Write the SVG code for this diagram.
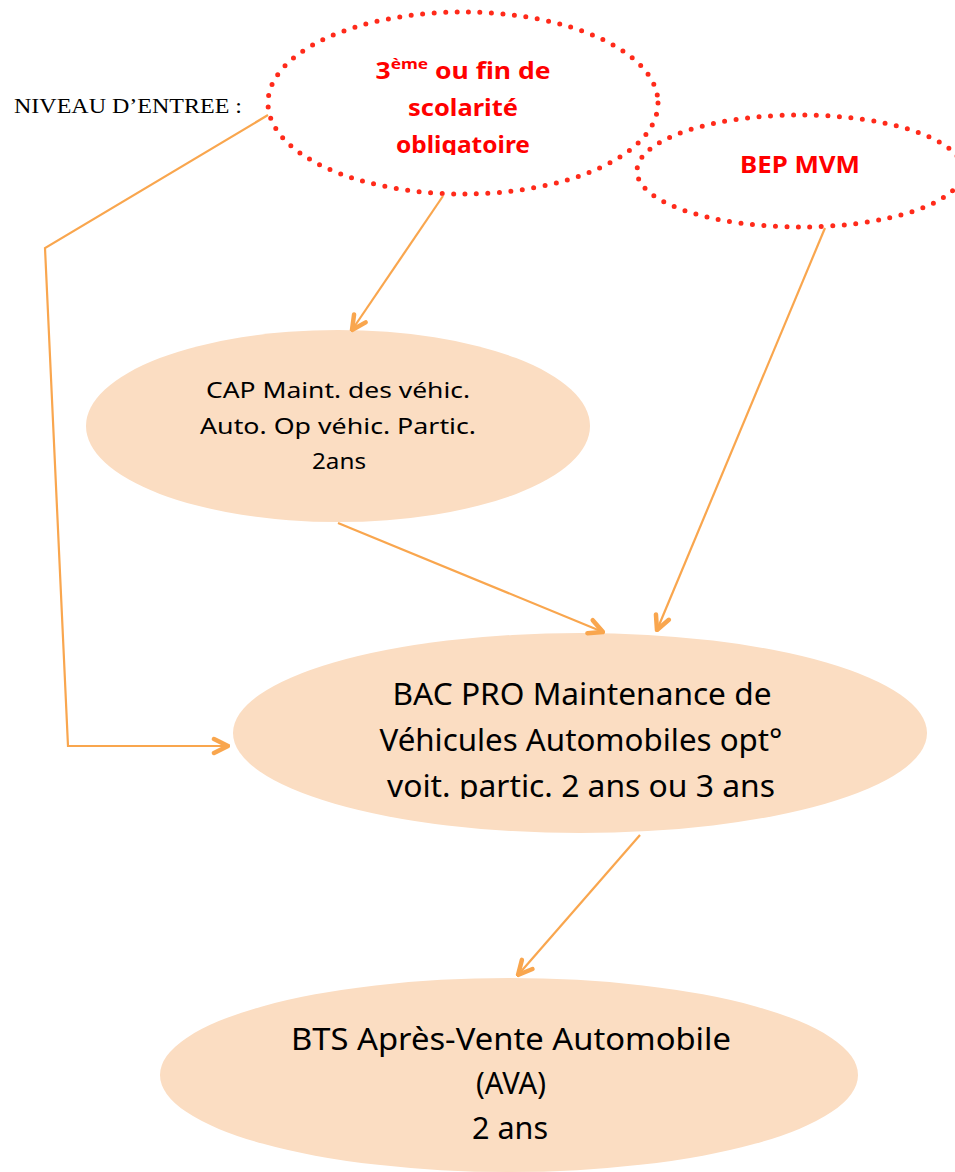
<svg xmlns="http://www.w3.org/2000/svg" width="955" height="1172" viewBox="0 0 955 1172">
<style>
.dot{fill:none;stroke:#FF2A1A;stroke-width:5;stroke-linecap:round;stroke-dasharray:0 11.5}
.node{fill:#FBDDC2}
.red{font-family:"Comic Sans MS","Noto Sans",sans-serif;font-weight:bold;fill:#FF0000;font-size:23px;text-anchor:middle}
.blk{font-family:"Comic Sans MS","Noto Sans",sans-serif;fill:#000;text-anchor:middle}
.con{fill:none;stroke:#F9A64E;stroke-width:2.2}
.head{fill:none;stroke:#F9A64E;stroke-width:4.5;stroke-linecap:round;stroke-linejoin:round}
</style>
<defs>
<clipPath id="c1"><rect x="0" y="0" width="955" height="155"/></clipPath>
<clipPath id="c2"><rect x="0" y="0" width="955" height="799"/></clipPath>
<marker id="arr" viewBox="0 0 20 20" refX="18" refY="10" markerWidth="20" markerHeight="20" markerUnits="userSpaceOnUse" orient="auto">
<path d="M4 3 L18 10 L4 17" class="head" stroke-width="3.2"/>
</marker>
</defs>
<text x="14" y="113" font-family="Liberation Serif,serif" font-size="21" textLength="228" lengthAdjust="spacingAndGlyphs">NIVEAU D’ENTREE :</text>
<g id="n-entree">
<ellipse class="dot" cx="463" cy="103" rx="195" ry="91"/>
<text class="red" x="463" y="79" textLength="175" lengthAdjust="spacingAndGlyphs">3<tspan font-size="15" dy="-10">ème</tspan><tspan dy="10"> ou fin de</tspan></text>
<text class="red" x="463" y="116" textLength="110" lengthAdjust="spacingAndGlyphs">scolarité</text>
<text class="red" x="463" y="153" clip-path="url(#c1)" textLength="134" lengthAdjust="spacingAndGlyphs">obligatoire</text>
</g>
<g id="n-bep">
<ellipse class="dot" cx="800" cy="171" rx="163" ry="56"/>
<text class="red" x="800" y="173" textLength="120" lengthAdjust="spacingAndGlyphs">BEP MVM</text>
</g>
<g id="n-cap">
<ellipse class="node" cx="338" cy="426" rx="252" ry="96"/>
<text class="blk" font-size="22" x="338" y="398" textLength="264" lengthAdjust="spacingAndGlyphs">CAP Maint. des véhic.</text>
<text class="blk" font-size="22" x="338" y="434" textLength="276" lengthAdjust="spacingAndGlyphs">Auto. Op véhic. Partic.</text>
<text class="blk" font-size="22" x="339" y="469" textLength="54" lengthAdjust="spacingAndGlyphs">2ans</text>
</g>
<g id="n-bac">
<ellipse class="node" cx="580" cy="733" rx="347" ry="100"/>
<text class="blk" font-size="30" x="582" y="705" textLength="379" lengthAdjust="spacingAndGlyphs">BAC PRO Maintenance de</text>
<text class="blk" font-size="30" x="581" y="751" textLength="403" lengthAdjust="spacingAndGlyphs">Véhicules Automobiles opt°</text>
<text class="blk" font-size="30" x="581" y="797" clip-path="url(#c2)" textLength="388" lengthAdjust="spacingAndGlyphs">voit. partic. 2 ans ou 3 ans</text>
</g>
<g id="n-bts">
<ellipse class="node" cx="509" cy="1075" rx="349" ry="97"/>
<text class="blk" font-size="30" x="511" y="1050" textLength="440" lengthAdjust="spacingAndGlyphs">BTS Après-Vente Automobile</text>
<text class="blk" font-size="30" x="511" y="1094" textLength="70" lengthAdjust="spacingAndGlyphs">(AVA)</text>
<text class="blk" font-size="30" x="510" y="1139" textLength="76" lengthAdjust="spacingAndGlyphs">2 ans</text>
</g>
<g id="connectors">
<polyline class="con" points="268,115 45,248 68,746 228,746" marker-end="url(#arr)"/>
<line class="con" x1="443" y1="196" x2="352" y2="330" marker-end="url(#arr)"/>
<line class="con" x1="825" y1="228" x2="657" y2="630" marker-end="url(#arr)"/>
<line class="con" x1="338" y1="523" x2="603" y2="632" marker-end="url(#arr)"/>
<line class="con" x1="640" y1="835" x2="518" y2="975" marker-end="url(#arr)"/>
</g>
</svg>
